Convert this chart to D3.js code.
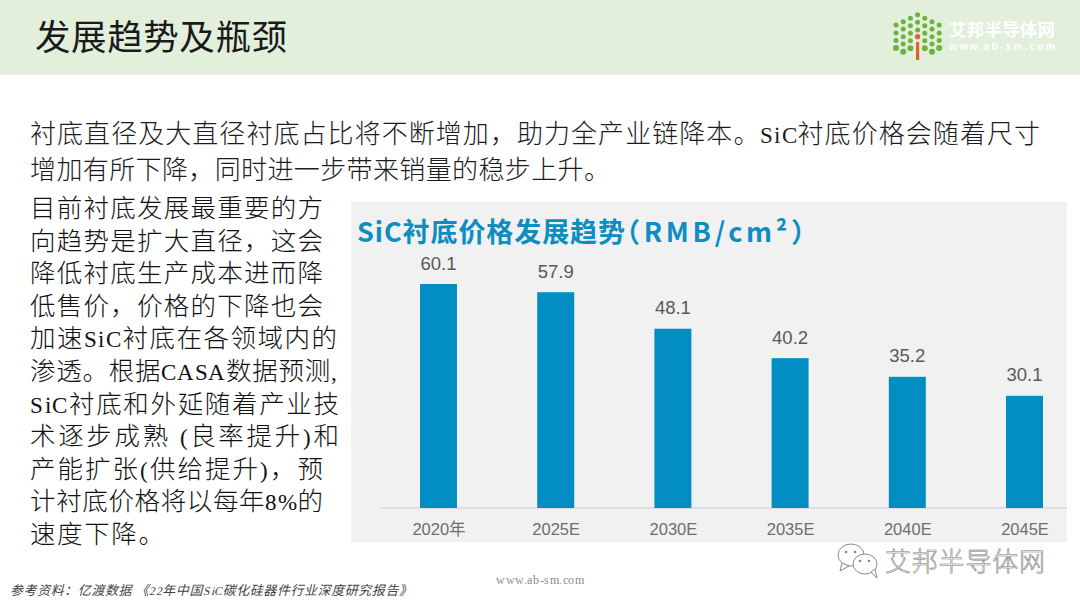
<!DOCTYPE html>
<html><head><meta charset="utf-8">
<script src="https://cdn.jsdelivr.net/npm/d3@7"></script>
<style>
@font-face{font-family:HalfLatin;src:local('Liberation Serif');size-adjust:90%;unicode-range:U+0020-007E}
html,body{margin:0;padding:0;background:#fff}svg{display:block}
</style>
</head><body><svg id="c" width="1080" height="608"></svg>
<script>
const categories = ["2020年","2025E","2030E","2035E","2040E","2045E"];
const values = [60.1,57.9,48.1,40.2,35.2,30.1];
const chartTitleMain = "SiC衬底价格发展趋势";
const chartTitleUnit = "（RMB/cm²）";
const pageTitle = "发展趋势及瓶颈";
const introLines = ["衬底直径及大直径衬底占比将不断增加，助力全产业链降本。SiC衬底价格会随着尺寸","增加有所下降，同时进一步带来销量的稳步上升。"];
const introWidths = [1010,580];
const sideLines = ["目前衬底发展最重要的方","向趋势是扩大直径，这会","降低衬底生产成本进而降","低售价，价格的下降也会","加速SiC衬底在各领域内的","渗透。根据CASA数据预测,","SiC衬底和外延随着产业技","术逐步成熟 (良率提升)和","产能扩张(供给提升)，预","计衬底价格将以每年8%的","速度下降。"];
const sideWidths = [293,293,293,293,307,307,309,309,293,293,134];
const sourceText = "参考资料：亿渡数据 《22年中国SiC碳化硅器件行业深度研究报告》";
const siteUrl = "www.ab-sm.com";
const brand = "艾邦半导体网";
const logoColumns = [[25,33,40.5,48],[21.7,29,36.7,44,51.7],[18.3,25.7,33.3,40.7,48.3],[14.7,22.3,30],[18.3,25.7,33.3,40.7,48.3],[21.7,29,36.7,44,51.7],[25,33,40.5,48]];

const svg = d3.select("#c");
const body = "HalfLatin,'Noto Sans CJK SC',serif";
const sans = "'Liberation Sans','Noto Sans CJK SC',sans-serif";
const cjk = "'Noto Sans CJK SC',sans-serif";

// header
svg.append("rect").attr("width",1080).attr("height",75).attr("fill","#e2efda");
svg.append("text").text(pageTitle).attr("x",35).attr("y",50).attr("font-family",cjk).attr("font-size",35.5)
  .attr("textLength",252).attr("fill","#1a1a1a");

// logo
const logo = svg.append("g");
logoColumns.forEach((col,c)=>col.forEach(cy=>logo.append("circle")
  .attr("cx",896+c*7.2).attr("cy",cy).attr("r",cy>44?3:2.5).attr("fill","#6db33f")));
logo.append("circle").attr("cx",917.6).attr("cy",36.7).attr("r",2.6).attr("fill","#e2622a");
logo.append("rect").attr("x",916).attr("y",42).attr("width",3.2).attr("height",18).attr("fill","#e2622a");
svg.append("text").text(brand).attr("x",949).attr("y",36).attr("font-family",cjk).attr("font-weight",700).attr("font-size",17.5).attr("textLength",106).attr("fill","#fff");
svg.append("text").text(siteUrl).attr("x",949).attr("y",50).attr("font-family",sans).attr("font-weight",700).attr("font-size",10.5).attr("textLength",106).attr("fill","#fff");

// intro
svg.selectAll("text.intro").data(introLines).join("text").attr("class","intro").text(d=>d)
  .attr("x",30).attr("y",(d,i)=>143+i*36).attr("font-family",body).attr("font-size",26).attr("font-weight",300)
  .attr("textLength",(d,i)=>introWidths[i]).attr("fill","#1c1c1c");
// side
svg.selectAll("text.side").data(sideLines).join("text").attr("class","side").text(d=>d)
  .attr("x",30).attr("y",(d,i)=>217+i*32.6).attr("font-family",body).attr("font-size",25.5).attr("font-weight",300)
  .attr("textLength",(d,i)=>sideWidths[i]).attr("fill","#111");

// chart
svg.append("rect").attr("x",351).attr("y",202).attr("width",716).attr("height",340).attr("fill","#f1f1f1");
svg.append("text").text(chartTitleMain).attr("x",357).attr("y",242).attr("font-family",cjk).attr("font-weight",700).attr("font-size",27).attr("textLength",268).attr("fill","#0e8dc3");
svg.append("text").text(chartTitleUnit).attr("x",613).attr("y",242).attr("font-family",cjk).attr("font-weight",700).attr("font-size",27).attr("textLength",205).attr("fill","#0e8dc3");

const x = d3.scalePoint().domain(categories).range([438.5,1024.5]);
const y = d3.scaleLinear().domain([0,60.1]).range([508,284]);
const barW = 37;
const axis = svg.append("g").attr("transform","translate(0,508)").call(d3.axisBottom(x).tickSize(0).tickPadding(15));
axis.select(".domain").attr("d","M381,0H1067").attr("stroke","#d9d9d9").attr("stroke-width",1.5);
axis.selectAll("text").attr("font-family",sans).attr("font-size",16.5).attr("fill","#6e6e6e");
svg.selectAll("rect.bar").data(values).join("rect").attr("class","bar")
  .attr("x",(d,i)=>x(categories[i])-barW/2).attr("width",barW)
  .attr("y",d=>y(d)).attr("height",d=>y(0)-y(d)).attr("fill","#038ec3");
svg.selectAll("text.val").data(values).join("text").attr("class","val").text(d=>d.toFixed(1))
  .attr("x",(d,i)=>x(categories[i])).attr("y",d=>y(d)-14.5).attr("text-anchor","middle")
  .attr("font-family",sans).attr("font-size",18.5).attr("fill","#595959");

// footer
svg.append("text").text(sourceText).attr("x",10).attr("y",595).attr("font-family",body).attr("font-style","italic").attr("font-size",13).attr("textLength",402).attr("fill","#444");
svg.append("text").text(siteUrl).attr("x",496).attr("y",584).attr("font-family",body).attr("font-size",13).attr("textLength",88).attr("fill","#888");

// watermark
const wm = svg.append("g").attr("fill","#fff").attr("stroke","#8a8a8a").attr("stroke-width",1);
wm.append("ellipse").attr("cx",851).attr("cy",555).attr("rx",13).attr("ry",11);
wm.append("path").attr("d","M842,563L840,571L849,566Z");
wm.append("ellipse").attr("cx",865).attr("cy",564).attr("rx",12).attr("ry",10);
wm.append("path").attr("d","M871,572L877,578L875,569Z");
[[846,552],[855,552],[860,561],[869,561]].forEach(p=>wm.append("circle").attr("cx",p[0]).attr("cy",p[1]).attr("r",1.3).attr("fill","#888").attr("stroke","none"));
svg.append("text").text(brand).attr("x",885).attr("y",571).attr("font-family",cjk).attr("font-size",26).attr("font-weight",300).attr("textLength",160).attr("fill","#fff").attr("stroke","#7a7a7a").attr("stroke-width",0.6);
</script></body></html>
